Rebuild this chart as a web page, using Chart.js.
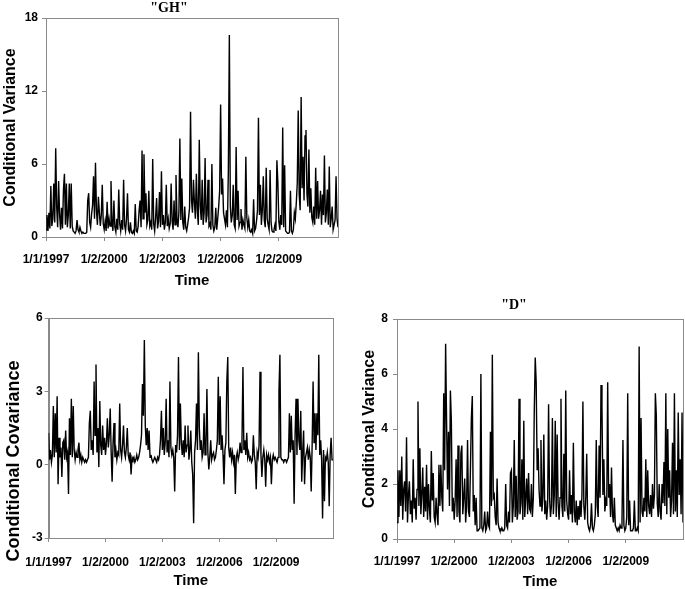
<!DOCTYPE html>
<html><head><meta charset="utf-8">
<script src="https://cdn.jsdelivr.net/npm/chart.js@4/dist/chart.umd.min.js"></script>
<style>
html,body{margin:0;padding:0;background:#fff;overflow:hidden;width:685px;height:589px;}
.wrap{position:absolute;overflow:hidden;}
canvas{position:absolute;left:0;top:0;}
</style></head><body>
<div class="wrap" style="left:0;top:0;width:362px;height:300px"><canvas id="c1" width="362" height="300"></canvas></div>
<div class="wrap" style="left:0;top:305px;width:345px;height:284px"><canvas id="c2" width="345" height="299"></canvas></div>
<div class="wrap" style="left:345px;top:290px;width:340px;height:299px"><canvas id="c3" width="370" height="310"></canvas></div>
<script>
// ---- data ----
const startYear = 1997;
const stepYears = 0.05;
const tickYears = [1997, 2000, 2003, 2006, 2009];
const tickLabels = ['1/1/1997', '1/2/2000', '1/2/2003', '1/2/2006', '1/2/2009'];

const ghVariance = [
 0.6,1.8,0.5,2.0,0.7,4.2,0.9,1.5,4.4,1.2,7.3,2.5,0.8,4.6,1.9,0.6,2.4,0.7,3.9,5.2,
 1.0,4.4,0.8,1.8,4.4,0.7,4.4,0.9,0.5,0.4,0.3,0.5,1.4,0.6,0.4,0.8,0.5,0.3,0.4,0.3,
 0.3,0.3,0.4,3.0,3.6,1.2,0.8,1.9,2.6,5.0,1.5,6.1,2.2,1.0,3.3,2.0,0.9,1.8,4.3,1.1,
 0.6,1.3,0.5,2.9,0.7,1.5,0.9,4.6,1.2,0.5,3.0,0.8,0.4,1.5,0.6,3.9,1.1,0.5,1.4,0.6,
 4.7,1.0,0.5,1.5,3.6,0.6,0.4,1.2,0.4,0.3,0.5,0.3,2.7,0.5,0.4,0.9,2.2,3.0,0.8,7.1,
 1.5,6.8,2.0,3.6,1.0,1.4,3.8,0.9,1.2,0.6,6.4,1.1,0.5,1.6,3.2,0.7,1.3,3.7,0.8,5.4,
 1.0,1.8,0.6,1.2,4.3,0.9,1.5,0.7,1.1,4.4,1.3,0.6,3.0,1.0,5.1,1.5,0.8,2.0,8.1,1.4,
 4.8,1.2,0.6,2.5,0.8,0.5,1.0,1.6,2.4,10.3,3.0,2.0,4.7,2.8,1.5,5.2,2.2,1.0,8.0,2.6,
 1.4,4.7,1.0,2.0,6.5,1.2,1.8,4.7,0.9,1.1,0.6,6.0,1.0,0.5,0.8,2.4,0.6,1.5,2.5,3.8,
 10.9,3.5,4.8,2.0,1.5,1.0,2.2,0.8,5.6,16.6,2.5,1.2,1.8,4.3,1.0,0.7,7.4,1.4,3.8,0.9,
 1.2,2.3,0.6,1.4,1.0,0.7,6.6,1.6,0.8,1.4,0.5,0.4,0.6,0.3,3.1,0.5,0.7,1.3,2.2,9.8,
 1.8,4.3,1.0,2.2,5.0,1.4,0.8,5.7,1.5,1.0,0.6,5.5,1.2,0.5,0.4,0.6,1.0,0.5,6.3,4.5,
 1.3,0.6,1.8,1.0,9.0,0.8,5.9,0.5,0.4,0.3,0.3,0.4,3.8,0.5,0.3,0.6,2.0,1.5,2.8,4.4,
 10.4,3.5,2.2,11.5,4.0,6.6,3.0,8.3,8.8,3.5,2.5,7.2,2.0,4.0,1.6,1.2,2.5,1.0,5.7,1.5,
 4.6,1.5,2.2,3.8,1.0,3.5,1.8,6.7,1.2,2.0,3.9,1.0,5.8,0.8,1.5,2.5,0.6,1.0,1.4,5.0,
 1.5,0.8
];

const covariance = [
 1.3,0.2,0.6,0.1,0.4,2.4,0.3,2.1,0.5,2.8,-0.8,1.1,0.3,0.7,-0.5,0.9,1.0,0.2,1.4,0.3,
 0.5,-1.2,1.9,0.4,2.7,0.3,2.4,0.6,0.2,0.5,0.3,0.6,0.9,0.2,0.4,0.1,0.3,0.2,0.1,0.2,
 0.1,0.2,0.3,1.7,2.2,0.6,1.0,0.4,3.4,1.2,4.1,0.5,1.5,-0.1,2.6,0.8,0.4,1.6,0.6,1.1,
 0.4,0.9,1.9,0.7,1.2,2.3,0.5,-0.7,0.9,1.7,0.3,0.6,0.2,0.5,0.4,2.5,0.6,0.3,0.8,1.6,
 0.5,0.3,0.7,1.5,0.4,0.2,0.5,-0.4,0.3,0.2,0.3,0.1,0.2,0.4,0.2,0.3,0.5,0.8,1.2,3.3,
 2.0,5.1,1.6,0.8,1.5,0.6,1.4,0.3,0.4,0.2,0.1,0.2,0.3,0.2,0.1,0.3,0.2,0.4,1.0,2.2,
 0.6,1.5,0.4,0.9,2.7,0.5,1.0,0.3,3.4,0.7,0.4,0.6,0.3,-1.1,0.8,0.5,1.2,4.4,0.6,2.5,
 0.9,0.4,1.0,0.3,1.6,0.5,0.8,1.6,0.2,0.6,1.4,0.1,-0.4,-2.4,0.5,1.0,2.5,0.6,4.6,1.5,
 0.6,1.0,0.3,0.5,2.1,0.4,0.7,3.1,0.5,-0.2,0.3,1.0,0.2,0.4,0.5,0.2,0.3,0.6,1.0,3.6,
 0.8,2.8,0.6,1.2,0.4,-0.8,0.6,0.9,3.4,4.4,0.7,0.3,0.7,0.2,0.5,0.1,0.4,-1.2,0.3,0.5,
 0.2,0.4,0.9,0.5,1.0,4.0,0.6,1.0,0.4,1.3,0.3,0.5,0.2,0.3,0.1,0.2,1.2,0.4,0.1,-1.0,
 0.5,0.3,0.8,3.8,0.4,-0.5,0.3,0.6,0.2,-0.9,0.4,0.2,0.4,0.1,0.3,-0.8,0.2,0.4,0.2,0.3,
 0.2,0.1,0.3,3.0,4.5,0.3,0.2,0.2,0.1,0.2,0.2,0.1,0.2,0.3,2.1,0.5,2.0,0.6,1.0,-1.6,
 1.2,2.7,0.4,2.7,1.0,0.6,2.2,-0.7,0.5,1.4,-0.8,0.3,0.5,0.7,0.2,0.6,0.3,-1.1,0.8,3.4,
 0.9,2.1,0.6,2.1,1.2,4.5,0.4,1.0,0.2,-2.2,0.6,-1.5,0.3,0.2,0.5,0.1,-1.7,0.4,1.1,0.2,
 0.2
];

const dVariance = [
 0.6,2.5,0.8,2.5,1.2,3.0,0.7,1.8,2.1,1.0,3.7,0.6,1.6,2.1,0.9,1.4,0.6,2.9,1.1,1.5,
 0.7,1.8,5.0,1.2,3.3,0.9,1.6,2.6,0.8,1.9,1.0,2.7,0.7,2.0,1.1,0.6,3.2,1.4,2.4,0.8,
 0.6,1.5,0.9,0.5,2.7,1.2,2.7,1.5,1.0,5.3,2.5,7.1,4.3,1.8,3.9,1.2,5.4,4.3,1.0,1.5,
 0.7,1.4,2.9,0.8,3.4,1.0,0.6,3.1,3.4,0.9,1.5,2.2,0.6,1.2,3.6,1.0,0.8,2.5,4.4,5.2,
 1.0,1.6,0.5,1.5,0.3,0.3,0.3,0.4,6.0,0.4,0.3,0.5,1.0,0.3,0.4,1.0,0.5,0.4,3.9,1.2,
 6.7,1.5,1.6,0.8,0.5,2.2,0.6,0.4,0.3,0.3,0.4,0.3,0.3,0.4,2.0,0.5,0.4,1.0,0.6,2.4,
 2.5,0.6,1.2,3.6,0.8,2.3,0.7,1.0,5.1,0.9,1.3,2.9,0.7,4.3,0.8,1.5,2.2,0.9,2.4,1.1,
 1.0,2.0,0.8,1.5,4.7,6.6,5.7,2.5,3.3,1.8,1.2,3.6,1.0,1.5,3.8,0.9,1.4,0.7,1.2,4.9,
 1.5,0.8,1.2,4.4,0.9,1.6,4.3,0.8,3.8,1.3,0.7,1.5,5.1,1.2,0.8,3.1,1.0,5.4,1.4,0.9,
 0.7,2.5,0.9,1.6,0.6,3.5,1.0,0.6,1.4,0.5,1.2,0.7,1.4,0.8,1.6,5.0,1.2,0.7,1.5,3.1,
 0.6,0.4,0.3,0.5,1.3,0.4,0.3,0.5,0.9,3.6,1.2,0.8,3.4,1.5,5.6,4.8,1.6,2.9,1.0,1.4,
 1.2,5.7,1.5,2.0,0.8,2.6,0.9,0.6,1.5,0.5,0.4,0.3,0.4,0.3,0.5,0.4,0.6,3.6,0.5,0.3,
 0.4,0.8,5.3,0.5,1.4,0.3,0.3,0.3,0.4,1.4,0.3,0.3,0.4,0.3,7.0,0.6,4.4,1.0,0.8,1.5,
 1.0,2.9,0.8,2.5,1.2,0.9,1.6,0.8,2.0,1.1,1.6,5.3,4.5,1.3,0.8,2.0,1.0,0.7,2.0,1.3,
 2.8,1.2,5.3,0.9,4.0,1.5,2.5,0.8,1.4,3.5,0.9,5.3,1.0,2.5,0.8,4.6,1.6,2.9,0.9,4.6,
 0.6
];

// ---- rendering ----
const SANS = "'Liberation Sans', Arial, sans-serif";
const SERIF = "'Liberation Serif', 'Times New Roman', serif";
const AXIS_GREY = '#8a8a8a';

const framePlugin = {
  id: 'frame',
  beforeDatasetsDraw(chart) {
    const {ctx, chartArea: a} = chart;
    ctx.save();
    ctx.strokeStyle = AXIS_GREY;
    ctx.lineWidth = 1;
    ctx.strokeRect(Math.round(a.left) + 0.5, Math.round(a.top) + 0.5,
                   Math.round(a.right - a.left), Math.round(a.bottom - a.top));
    ctx.restore();
  }
};

function toPoints(values) {
  return values.map((v, i) => ({x: startYear + i * stepYears, y: v}));
}

function makeChart(id, values, c) {
  const yScale = {
    type: 'linear', position: 'left', min: c.yMin, max: c.yMax,
    afterFit: s => { s.width = c.yWidth; },
    ticks: { stepSize: c.yStep, color: '#000', padding: c.yTickPad,
             font: {family: SANS, size: 12, weight: 'bold'} },
    grid: { display: true, drawOnChartArea: false, drawTicks: true, tickLength: 4, color: AXIS_GREY },
    border: { display: true, color: AXIS_GREY },
    title: c.yTitle ? { display: true, text: c.yTitle, color: '#000',
             font: {family: SANS, size: 16, weight: 'bold', lineHeight: 1.2},
             padding: {top: c.yTitlePad, bottom: 0} } : {display: false}
  };
  const xScale = {
    type: 'linear', position: 'bottom', min: startYear, max: c.xMax,
    afterFit: s => { s.height = c.xHeight; },
    afterBuildTicks: s => { s.ticks = tickYears.map(v => ({value: v})); },
    ticks: { autoSkip: false, maxRotation: 0, color: '#000', padding: c.xTickPad,
             font: {family: SANS, size: 12, weight: 'bold'},
             callback: v => { const k = tickYears.indexOf(v); return k >= 0 ? tickLabels[k] : ''; } },
    grid: { display: true, drawOnChartArea: false, drawTicks: true, tickLength: 4, color: AXIS_GREY },
    border: { display: true, color: AXIS_GREY },
    title: { display: true, text: 'Time', color: '#000',
             font: {family: SANS, size: 15, weight: 'bold', lineHeight: 1.2},
             padding: {top: 0, bottom: c.xTitlePad} }
  };
  return new Chart(document.getElementById(id), {
    type: 'line',
    data: { datasets: [{ data: toPoints(values), borderColor: '#000', borderWidth: 1.4,
                         pointRadius: 0, tension: 0, fill: false }] },
    options: {
      responsive: false, animation: false, devicePixelRatio: 1,
      layout: { padding: c.layoutPad },
      scales: { x: xScale, y: yScale },
      plugins: { legend: {display: false}, tooltip: {enabled: false}, title: c.title }
    },
    plugins: [framePlugin]
  });
}

// Panel "GH"
makeChart('c1', ghVariance, {
  yMin: 0, yMax: 18, yStep: 6, yWidth: 46, yTickPad: 4,
  yTitle: 'Conditional Variance', yTitlePad: 1,
  xMax: 2012.05, xHeight: 63, xTickPad: 11, xTitlePad: 10,
  layoutPad: {top: 0, left: 0, right: 24, bottom: 0},
  title: { display: true, text: '"GH"', color: '#000', fullSize: true,
           font: {family: SERIF, size: 14, weight: 'bold', lineHeight: 1.2},
           padding: {top: 0, bottom: 1.2} }
});

// Covariance panel
makeChart('c2', covariance, {
  yMin: -3, yMax: 6, yStep: 3, yWidth: 24, yTickPad: 2,
  yTitle: null,
  xMax: 2012.0, xHeight: 66, xTickPad: 13, xTitlePad: 14,
  layoutPad: {top: 13, left: 0, right: 12, bottom: 0},
  title: { display: true, position: 'left', text: 'Conditional Covariance', color: '#000', fullSize: true,
           font: {family: SANS, size: 18, weight: 'bold', lineHeight: 1.2},
           padding: {top: 3, bottom: 0} }
});

// Panel "D"
makeChart('c3', dVariance, {
  yMin: 0, yMax: 8, yStep: 2, yWidth: 52, yTickPad: 5,
  yTitle: 'Conditional Variance', yTitlePad: 15.4,
  xMax: 2012.0, xHeight: 61, xTickPad: 11, xTitlePad: 9,
  layoutPad: {top: 0, left: 0, right: 32, bottom: 0},
  title: { display: true, text: '"D"', color: '#000', fullSize: true,
           font: {family: SERIF, size: 14, weight: 'bold', lineHeight: 1.2},
           padding: {top: 6.6, bottom: 5.6} }
});
</script>
</body></html>
